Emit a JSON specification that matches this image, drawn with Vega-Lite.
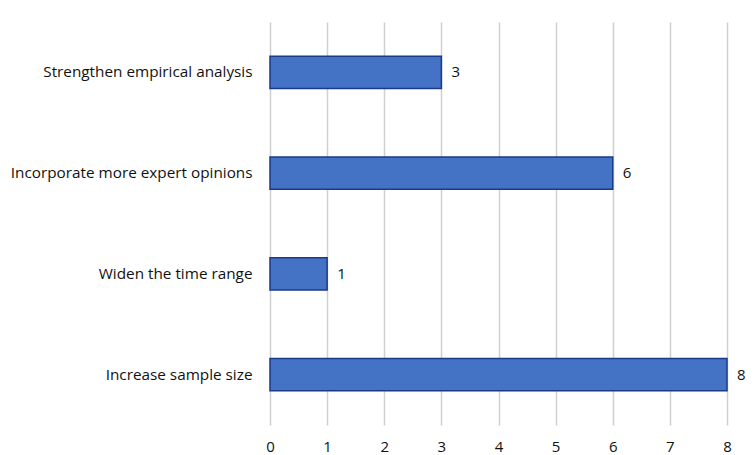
{
  "$schema": "https://vega.github.io/schema/vega-lite/v6.json",
  "autosize": {"type": "none"},
  "padding": {"left": 270, "top": 22, "right": 27, "bottom": 30},
  "width": 457,
  "height": 403,
  "background": "white",
  "config": {"view": {"stroke": null}, "font": "Open Sans"},
  "data": {"values": [
    {"item": "Strengthen empirical analysis", "count": 3},
    {"item": "Incorporate more expert opinions", "count": 6},
    {"item": "Widen the time range", "count": 1},
    {"item": "Increase sample size", "count": 8}
  ]},
  "encoding": {
    "y": {"field": "item", "type": "nominal", "sort": null,
      "scale": {"paddingInner": 0.68, "paddingOuter": 0.34},
      "axis": {"title": null, "domain": false, "ticks": false, "labelPadding": 18,
        "labelFontSize": 15.3, "labelColor": "#111", "labelFont": "Open Sans", "labelLimit": 300}},
    "x": {"field": "count", "type": "quantitative",
      "scale": {"domain": [0, 8], "nice": false},
      "axis": {"title": null, "domain": false, "ticks": false, "values": [0,1,2,3,4,5,6,7,8],
        "labelOverlap": false, "labelFlush": false,
        "labelPadding": 14, "labelFontSize": 15, "labelColor": "#111", "labelFont": "Open Sans",
        "gridColor": "#d0d0d0", "gridWidth": 1.5}}
  },
  "layer": [
    {"mark": {"type": "bar", "color": "#4472C4", "stroke": "#1b3a8a", "strokeWidth": 1.5}},
    {"mark": {"type": "text", "align": "left", "dx": 10, "fontSize": 15, "font": "Open Sans", "color": "#111"},
     "encoding": {"text": {"field": "count", "type": "quantitative"}}}
  ]
}
